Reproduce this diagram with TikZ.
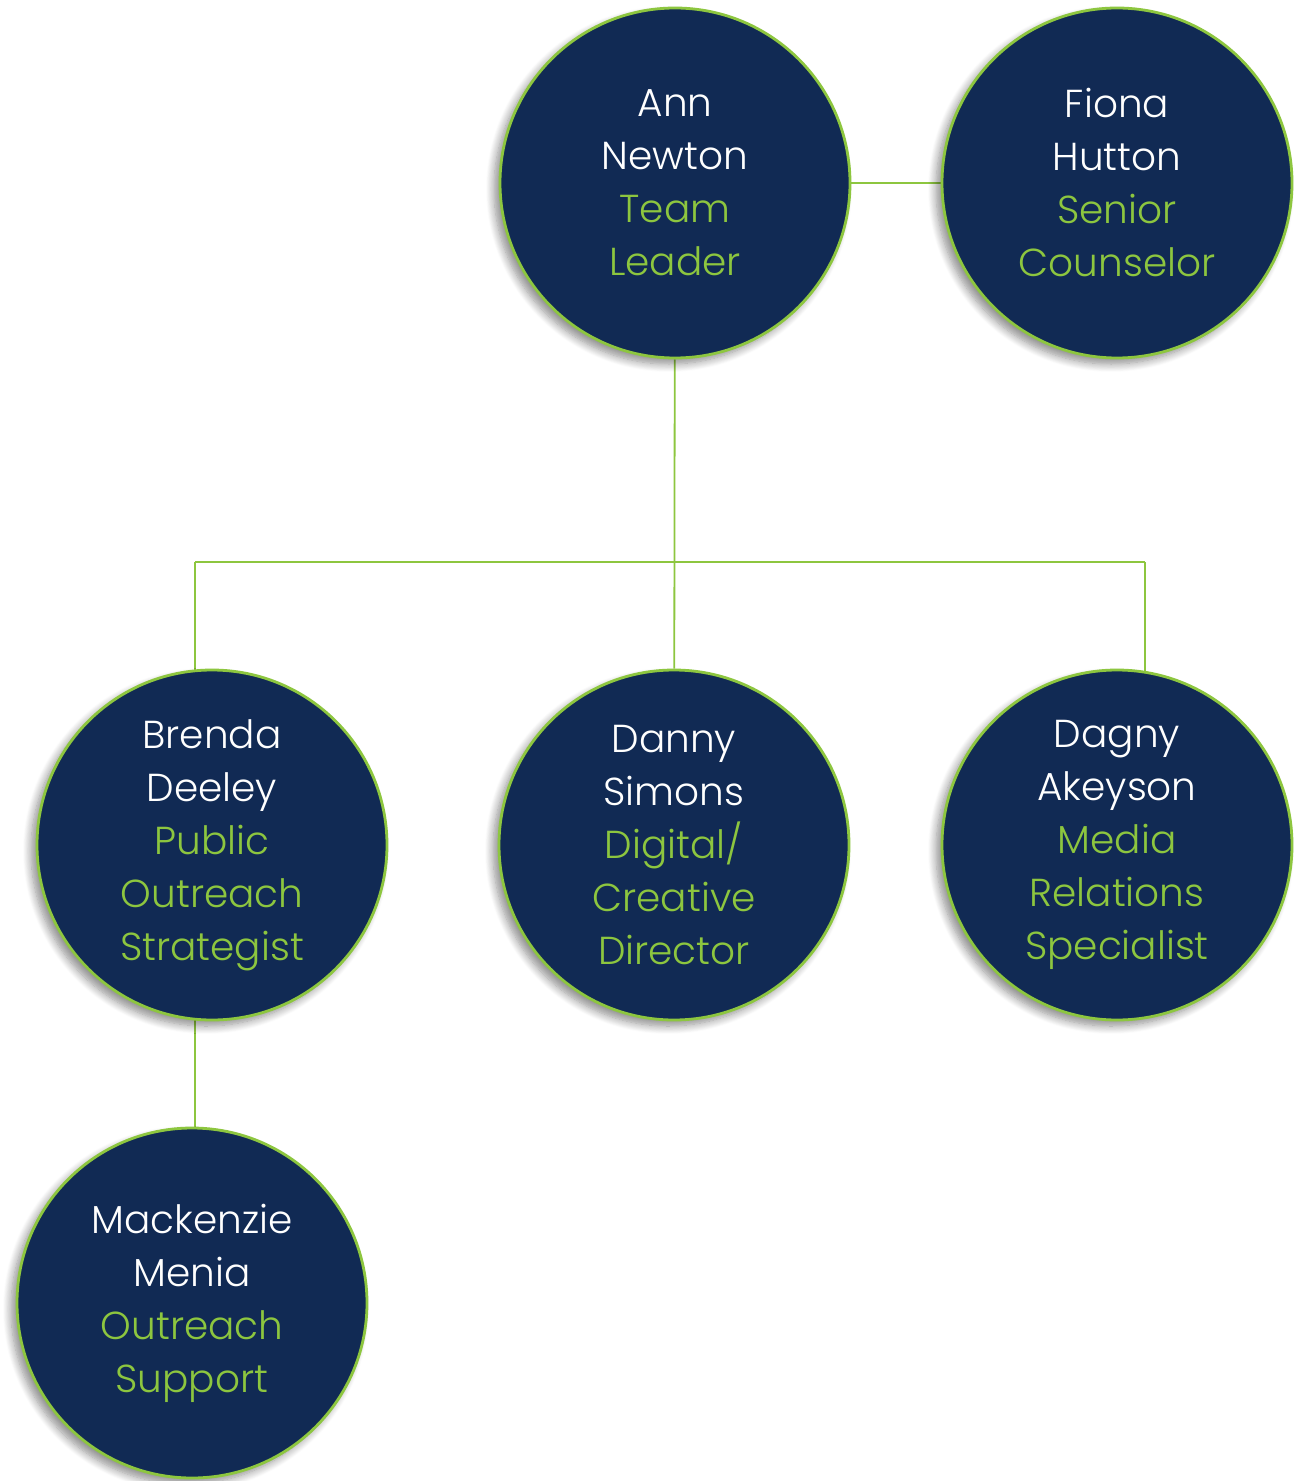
\documentclass[tikz,border=0pt]{standalone}
\usepackage{fontspec}
\setmainfont{Poppins}[UprightFont=* Light]
\usetikzlibrary{shadows.blur,backgrounds}
\definecolor{navy}{HTML}{112A54}
\definecolor{lime}{HTML}{8DC63F}
\tikzset{
  person/.style={circle, fill=navy, draw=lime, line width=1.4pt,
    minimum size=175pt, inner sep=0pt, text=white, align=center,
    font=\fontsize{19.5}{26.5}\selectfont,
    blur shadow={shadow xshift=-3pt, shadow yshift=-3pt, shadow blur steps=10, shadow opacity=45, shadow blur radius=4pt}},
  link/.style={draw=lime, line width=0.9pt},
}
\newcommand{\role}[1]{\textcolor{lime}{#1}}
\begin{document}
\begin{tikzpicture}[x=0.5pt,y=-0.5pt]
\useasboundingbox (0,0) rectangle (1300,1481);
\node[person] (ann) at (675,183) {Ann\\Newton\\\role{Team}\\\role{Leader}};
\node[person] (fiona) at (1117,183) {Fiona\\Hutton\\\role{Senior}\\\role{Counselor}};
\node[person] (brenda) at (212,845) {Brenda\\Deeley\\\role{Public}\\\role{Outreach}\\\role{Strategist}};
\node[person] (danny) at (674,845) {Danny\\Simons\\\role{Digital/}\\\role{Creative}\\\role{Director}};
\node[person] (dagny) at (1117,845) {Dagny\\Akeyson\\\role{Media}\\\role{Relations}\\\role{Specialist}};
\node[person] (mack) at (192,1303) {Mackenzie\\Menia\\\role{Outreach}\\\role{Support}};
\coordinate (busL) at (195,562);
\coordinate (busR) at (1145,562);
\begin{scope}[on background layer]
\draw[link] (ann) -- (fiona);
\draw[link] (ann) -- (danny);
\draw[link] (busL) -- (busR);
\draw[link] (busL) -- (busL |- brenda);
\draw[link] (busR) -- (busR |- dagny);
\draw[link] (busL |- brenda) -- (busL |- mack);
\end{scope}
\end{tikzpicture}
\end{document}
